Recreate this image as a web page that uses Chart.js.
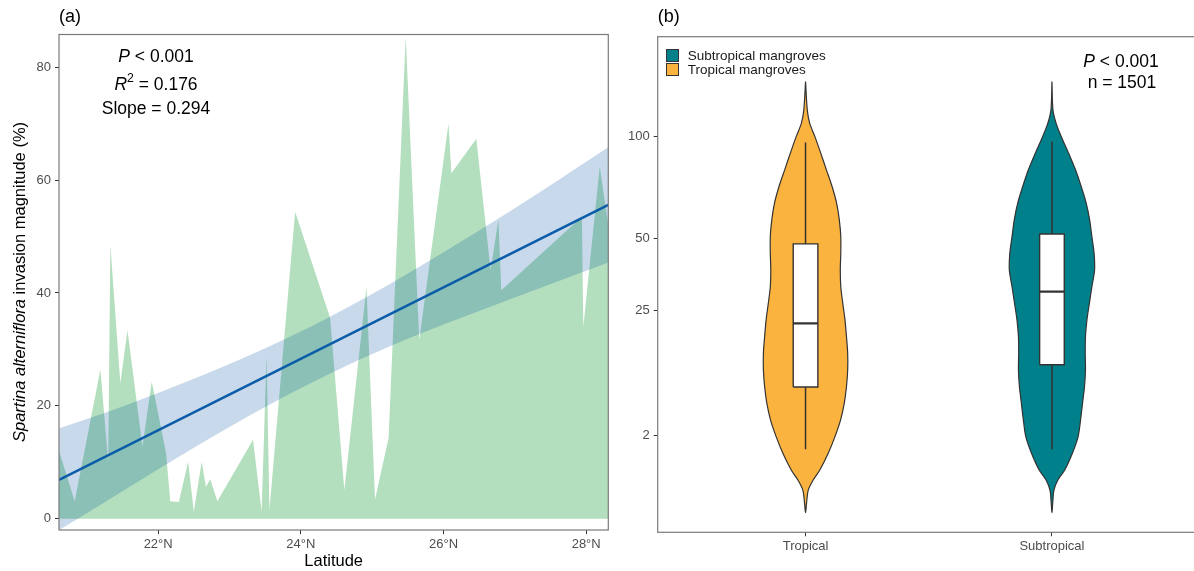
<!DOCTYPE html>
<html>
<head>
<meta charset="utf-8">
<script src="https://cdn.jsdelivr.net/npm/chart.js@4.4.0/dist/chart.umd.min.js"></script>
<style>
  html, body { margin: 0; padding: 0; background: #fff; overflow: hidden; width: 1194px; height: 571px; }
  #wrapA { position: absolute; left: 0; top: 0; width: 620px; height: 571px; }
  #wrapB { position: absolute; left: 620px; top: 0; width: 582px; height: 571px; }
</style>
</head>
<body>
<div id="wrapA"><canvas id="latChart" width="620" height="571"></canvas></div>
<div id="wrapB"><canvas id="mangroveChart" width="582" height="571"></canvas></div>
<script>
const FONT = '"Liberation Sans", Arial, sans-serif';
Chart.defaults.font.family = FONT;
Chart.defaults.animation = false;

// (a) 纬度 - 入侵程度
const latTicks = [22, 24, 26, 28];
const invTicks = [0, 20, 40, 60, 80];
const latitudes = [20.61, 20.83, 21.19, 21.30, 21.33, 21.47, 21.57, 21.78, 21.91, 22.11,
    22.17, 22.29, 22.42, 22.50, 22.61, 22.67, 22.73, 22.83, 23.33, 23.45,
    23.52, 23.56, 23.92, 24.41, 24.61, 24.92, 25.04, 25.23, 25.47, 25.66,
    26.07, 26.11, 26.46, 26.66, 26.77, 26.81, 27.94, 27.96, 28.19, 28.31];
const invasion = [12.0, 3.1, 26.4, 10.1, 48.5, 24.0, 33.4, 12.8, 24.3, 11.7,
    3.1, 3.0, 10.1, 1.3, 10.1, 5.7, 7.0, 3.1, 14.0, 1.3,
    29.0, 1.6, 54.4, 35.6, 5.1, 41.1, 3.4, 14.3, 85.4, 31.7,
    70.0, 61.2, 67.3, 44.0, 53.0, 40.5, 53.5, 34.0, 62.4, 52.0];
// 回归线与置信带
const lineLat = [20.61, 28.31];
const lineFit = [6.9, 55.6];
const bandLat = [20.61, 21.5, 22.5, 23.5, 24.15, 25, 26, 27, 28.31];
const bandUpper = [16.0, 19.9, 24.8, 30.2, 34.1, 39.8, 47.2, 55.0, 65.8];
const bandLower = [-2.0, 4.9, 12.6, 19.8, 24.1, 29.2, 34.4, 39.2, 45.4];

// (b) 小提琴图
const habitats = ['Tropical', 'Subtropical'];
const habitatLegend = ['Tropical mangroves', 'Subtropical mangroves'];
const habitatColors = ['#fbb33f', '#00808a'];
const sqrtTicks = [2, 25, 50, 100];
// 轮廓高度(开方轴上的位置)与半宽
const violinLevels = [11.58, 10.77, 10.38, 10.00, 9.52, 9.04, 8.56, 8.09, 7.61, 7.13,
    6.65, 6.17, 5.69, 5.22, 4.74, 4.26, 3.78, 3.30, 2.82, 2.34,
    1.86, 1.38, 0.91, 0.43, 0.14, -0.15, -0.53, -0.80];
const tropicalWidth = [0, 0.007, 0.017, 0.038, 0.062, 0.085, 0.108, 0.126, 0.137, 0.143,
    0.143, 0.141, 0.143, 0.151, 0.160, 0.166, 0.171, 0.171, 0.166, 0.157,
    0.142, 0.119, 0.092, 0.058, 0.031, 0.011, 0.004, 0];
const subtropicalWidth = [0, 0.004, 0.017, 0.038, 0.068, 0.096, 0.119, 0.139, 0.153, 0.162,
    0.171, 0.173, 0.162, 0.152, 0.142, 0.136, 0.135, 0.136, 0.132, 0.124,
    0.116, 0.106, 0.083, 0.052, 0.024, 0.008, 0.003, 0];
// 箱线 (%)
const whiskerLow = [1.05, 1.05];
const boxQ1 = [7.9, 11.9];
const boxMedian = [21.5, 30.8];
const boxQ3 = [47.9, 51.9];
const whiskerHigh = [96.6, 97.2];

const pts = (xs, ys) => xs.map((x, i) => ({ x: x, y: ys[i] }));

function violinOutline(center, widths) {
    const right = violinLevels.map((lv, i) => ({ x: center + widths[i], y: lv }));
    const left = violinLevels.map((lv, i) => ({ x: center - widths[i], y: lv })).reverse().slice(1);
    return right.concat(left);
}

// 文字
function fontStr(p, size) {
    return (p.italic ? 'italic ' : '') + (p.sup ? size * 0.7 : size) + 'px ' + FONT;
}

function drawRich(ctx, item) {
    const size = item.size;
    let total = 0;
    const widths = item.parts.map(p => {
        ctx.font = fontStr(p, size);
        const w = ctx.measureText(p.text).width;
        total += w;
        return w;
    });
    ctx.save();
    ctx.translate(item.x, item.y);
    if (item.rotate) ctx.rotate(item.rotate);
    ctx.fillStyle = item.color || '#000';
    ctx.textBaseline = 'middle';
    ctx.textAlign = 'left';
    let x = item.align === 'left' ? 0 : -total / 2;
    item.parts.forEach((p, i) => {
        ctx.font = fontStr(p, size);
        ctx.fillText(p.text, x, p.sup ? -size * 0.4 : 0);
        x += widths[i];
    });
    ctx.restore();
}

const notesPlugin = {
    id: 'notes',
    afterDraw(chart, args, opts) {
        (opts.items || []).forEach(item => drawRich(chart.ctx, item));
    }
};

const panelBox = {
    id: 'panelBox',
    afterDatasetsDraw(chart) {
        const a = chart.chartArea, ctx = chart.ctx;
        ctx.save();
        ctx.strokeStyle = '#7a7a7a';
        ctx.lineWidth = 1.2;
        ctx.strokeRect(a.left, a.top, a.right - a.left, a.bottom - a.top);
        ctx.restore();
    }
};

const insideLegend = {
    id: 'insideLegend',
    afterDraw(chart) {
        const ctx = chart.ctx;
        const items = chart.data.datasets.filter(d => d.legendLabel).reverse();
        const x0 = chart.chartArea.left + 8.8;
        const y0 = chart.chartArea.top + 12.8;
        ctx.save();
        items.forEach((d, i) => {
            const y = y0 + i * 14;
            ctx.fillStyle = d.backgroundColor;
            ctx.fillRect(x0, y, 12, 12);
            ctx.strokeStyle = '#333';
            ctx.lineWidth = 1;
            ctx.strokeRect(x0, y, 12, 12);
            ctx.fillStyle = '#1a1a1a';
            ctx.font = '13.5px ' + FONT;
            ctx.textBaseline = 'middle';
            ctx.fillText(d.legendLabel, x0 + 21.3, y + 6.5);
        });
        ctx.restore();
    }
};

const tickFont = { size: 13, family: FONT };
const tickGrid = { drawOnChartArea: false, drawTicks: true, tickLength: 4, tickColor: '#333', tickWidth: 1 };

// 图 (a)
new Chart(document.getElementById('latChart'), {
    type: 'line',
    data: {
        datasets: [
            { data: pts(lineLat, lineFit), borderColor: '#0b5ca8', borderWidth: 2.6, pointRadius: 0, fill: false, order: 0 },
            { data: pts(bandLat, bandUpper), borderWidth: 0, pointRadius: 0, fill: '+1',
              backgroundColor: 'rgba(0, 82, 160, 0.22)', cubicInterpolationMode: 'monotone', order: 1 },
            { data: pts(bandLat, bandLower), borderWidth: 0, pointRadius: 0, fill: false,
              cubicInterpolationMode: 'monotone', order: 1 },
            { data: pts(latitudes, invasion), borderWidth: 0, pointRadius: 0, fill: 'origin',
              backgroundColor: '#b3dfbe', tension: 0, order: 2 }
        ]
    },
    options: {
        responsive: false,
        events: [],
        layout: { padding: { left: 0, top: 34.5, right: 11.7, bottom: 0 } },
        plugins: {
            legend: { display: false },
            tooltip: { enabled: false },
            notes: {
                items: [
                    { parts: [{ text: '(a)' }], x: 59, y: 17, size: 18, align: 'left' },
                    { parts: [{ text: 'P', italic: true }, { text: ' < 0.001' }], x: 156, y: 56.7, size: 17.5 },
                    { parts: [{ text: 'R', italic: true }, { text: '2', sup: true }, { text: ' = 0.176' }], x: 156, y: 85.5, size: 17.5 },
                    { parts: [{ text: 'Slope = 0.294' }], x: 156, y: 109, size: 17.5 },
                    { parts: [{ text: 'Spartina alterniflora', italic: true }, { text: ' invasion magnitude (%)' }],
                      x: 20, y: 282, size: 16.5, rotate: -Math.PI / 2 }
                ]
            }
        },
        scales: {
            x: {
                type: 'linear', min: 20.61, max: 28.31,
                afterBuildTicks: s => { s.ticks = latTicks.map(v => ({ value: v })); },
                afterFit: s => { s.height = 41; },
                ticks: { autoSkip: false, maxRotation: 0, color: '#4d4d4d', font: tickFont, padding: 2.5,
                         callback: v => v + '°N' },
                grid: tickGrid,
                border: { display: false },
                title: { display: true, text: 'Latitude', color: '#000', font: { size: 16.5, family: FONT },
                         padding: { top: 0, bottom: 0 } }
            },
            y: {
                type: 'linear', min: -1.98, max: 85.77,
                afterBuildTicks: s => { s.ticks = invTicks.map(v => ({ value: v })); },
                afterFit: s => { s.width = 59; },
                ticks: { autoSkip: false, color: '#4d4d4d', font: tickFont, padding: 4 },
                grid: tickGrid,
                border: { display: false }
            }
        }
    },
    plugins: [panelBox, notesPlugin]
});

// 图 (b)
const violinSets = [];
const widthSets = [tropicalWidth, subtropicalWidth];
const boxHalf = 0.05;
habitats.forEach((h, i) => {
    const c = i + 1;
    const q1 = Math.sqrt(boxQ1[i]), q3 = Math.sqrt(boxQ3[i]), med = Math.sqrt(boxMedian[i]);
    violinSets.push({ data: violinOutline(c, widthSets[i]), fill: 'shape', backgroundColor: habitatColors[i],
        borderColor: '#333', borderWidth: 1.2, tension: 0.3, pointRadius: 0, order: 4, legendLabel: habitatLegend[i] });
    violinSets.push({ data: [{ x: c, y: Math.sqrt(whiskerLow[i]) }, { x: c, y: q1 }],
        borderColor: '#333', borderWidth: 1.5, pointRadius: 0, fill: false, order: 3 });
    violinSets.push({ data: [{ x: c, y: q3 }, { x: c, y: Math.sqrt(whiskerHigh[i]) }],
        borderColor: '#333', borderWidth: 1.5, pointRadius: 0, fill: false, order: 3 });
    violinSets.push({ data: [{ x: c - boxHalf, y: q1 }, { x: c + boxHalf, y: q1 }, { x: c + boxHalf, y: q3 },
            { x: c - boxHalf, y: q3 }, { x: c - boxHalf, y: q1 }],
        fill: 'shape', backgroundColor: '#ffffff', borderColor: '#333', borderWidth: 1.4,
        borderJoinStyle: 'miter', pointRadius: 0, tension: 0, order: 2 });
    violinSets.push({ data: [{ x: c - boxHalf, y: med }, { x: c + boxHalf, y: med }],
        borderColor: '#333', borderWidth: 2.4, pointRadius: 0, fill: false, order: 1 });
});

new Chart(document.getElementById('mangroveChart'), {
    type: 'line',
    data: { datasets: violinSets },
    options: {
        responsive: false,
        events: [],
        layout: { padding: { left: 0, top: 36.7, right: 2.2, bottom: 0 } },
        plugins: {
            legend: { display: false },
            tooltip: { enabled: false },
            notes: {
                items: [
                    { parts: [{ text: '(b)' }], x: 37.7, y: 17, size: 18, align: 'left' },
                    { parts: [{ text: 'P', italic: true }, { text: ' < 0.001' }], x: 501, y: 62.2, size: 17.5 },
                    { parts: [{ text: 'n = 1501' }], x: 502, y: 83, size: 17.5 }
                ]
            }
        },
        scales: {
            x: {
                type: 'linear', min: 0.4, max: 2.6,
                afterBuildTicks: s => { s.ticks = habitats.map((h, i) => ({ value: i + 1 })); },
                afterFit: s => { s.height = 38.7; },
                ticks: { autoSkip: false, maxRotation: 0, color: '#4d4d4d', font: tickFont, padding: 2,
                         callback: (v, i) => habitats[i] },
                grid: tickGrid,
                border: { display: false }
            },
            y: {
                type: 'linear', min: -1.361, max: 12.87,
                afterBuildTicks: s => { s.ticks = sqrtTicks.map(v => ({ value: Math.sqrt(v) })); },
                afterFit: s => { s.width = 37.7; },
                ticks: { autoSkip: false, color: '#4d4d4d', font: tickFont, padding: 4,
                         callback: (v, i) => sqrtTicks[i] },
                grid: tickGrid,
                border: { display: false }
            }
        }
    },
    plugins: [panelBox, notesPlugin, insideLegend]
});
</script>
</body>
</html>
